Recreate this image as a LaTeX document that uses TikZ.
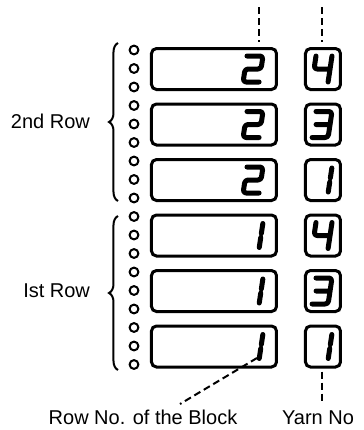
\documentclass[tikz,border=0pt]{standalone}
\usepackage{fontspec}
\setmainfont{Liberation Sans}
\usetikzlibrary{decorations.pathreplacing}

% seven segment digit in a 16 x 26 cell, #1 = top left corner
\newcommand\lcd[2]{%
  \begin{scope}[shift={(#1)}, xslant=0.15]
    \ifcase#2\relax\or
      \draw[seg] (16,1) -- (16,11) (16,15) -- (16,25);
    \or
      \draw[seg] (0,0) -- (16,0) -- (16,13) -- (0,13) -- (0,26) -- (16,26);
    \or
      \draw[seg] (0,0) -- (16,0) -- (16,26) -- (0,26) (2,13) -- (16,13);
    \or
      \draw[seg] (0,0) -- (0,13) -- (16,13) (16,0) -- (16,26);
    \fi
  \end{scope}}

\begin{document}
\begin{tikzpicture}[
  x=0.5pt, y=-0.5pt,
  font=\fontsize{10}{12}\selectfont,
  rowbox/.style={draw, line width=1.5pt, rounded corners=2.5pt,
                 minimum width=62.5pt, minimum height=20.5pt, inner sep=0pt},
  yarnbox/.style={rowbox, minimum width=17.5pt},
  hole/.style={draw, circle, line width=1pt, minimum size=4.4pt,
               inner sep=0pt},
  seg/.style={line width=2.5pt, rounded corners=1.5pt,
              line cap=round, line join=round},
  dsh/.style={line width=1pt, dash pattern=on 3.5pt off 2pt},
  brc/.style={decorate, decoration={brace, amplitude=4.5pt},
              line width=1pt}
]
\useasboundingbox (0,0) rectangle (364,430);

% blocks: row no. and yarn no.
\foreach \i/\rn/\yn in {1/2/4, 2/2/3, 3/2/1, 4/1/4, 5/1/3, 6/1/1}{
  \pgfmathsetmacro\cy{69+55.5*(\i-1)}
  \node[rowbox] (rb\i) at (214,\cy) {};
  \node[yarnbox] (yb\i) at (323,\cy) {};
  \lcd{247,\cy-13}{\rn}
  \lcd{316,\cy-13}{\yn}
}

% punched holes
\foreach \k in {1,...,18}
  \node[hole] (h\k) at (134,{50+18.5*(\k-1)}) {};

% braces
\draw[brc] (118,201) -- (118,43);
\draw[brc] (118,370) -- (118,216);
\node[anchor=base east] (row2) at (97,128) {2nd Row};
\node[anchor=base east] (row1) at (97,297) {Ist Row};

% labels
\node[anchor=base] (rowno) at (143,424) {Row No. of the Block};
\node[anchor=base] (yarnno) at (318,424) {Yarn No};

\coordinate (top1) at (259,7);
\coordinate (top2) at (322,7);
\coordinate (d6) at (257,358);
\coordinate (e6) at (180,404);

\draw[dsh, shorten >=2.5pt] (top1) -- (top1 |- rb1.north);
\draw[dsh, shorten >=2.5pt] (top2) -- (top2 |- yb1.north);
\draw[dsh] (d6) -- (e6);
\draw[dsh, shorten <=1.5pt] (yb6.south -| top2) -- (yarnno.north -| top2);

\end{tikzpicture}
\end{document}
